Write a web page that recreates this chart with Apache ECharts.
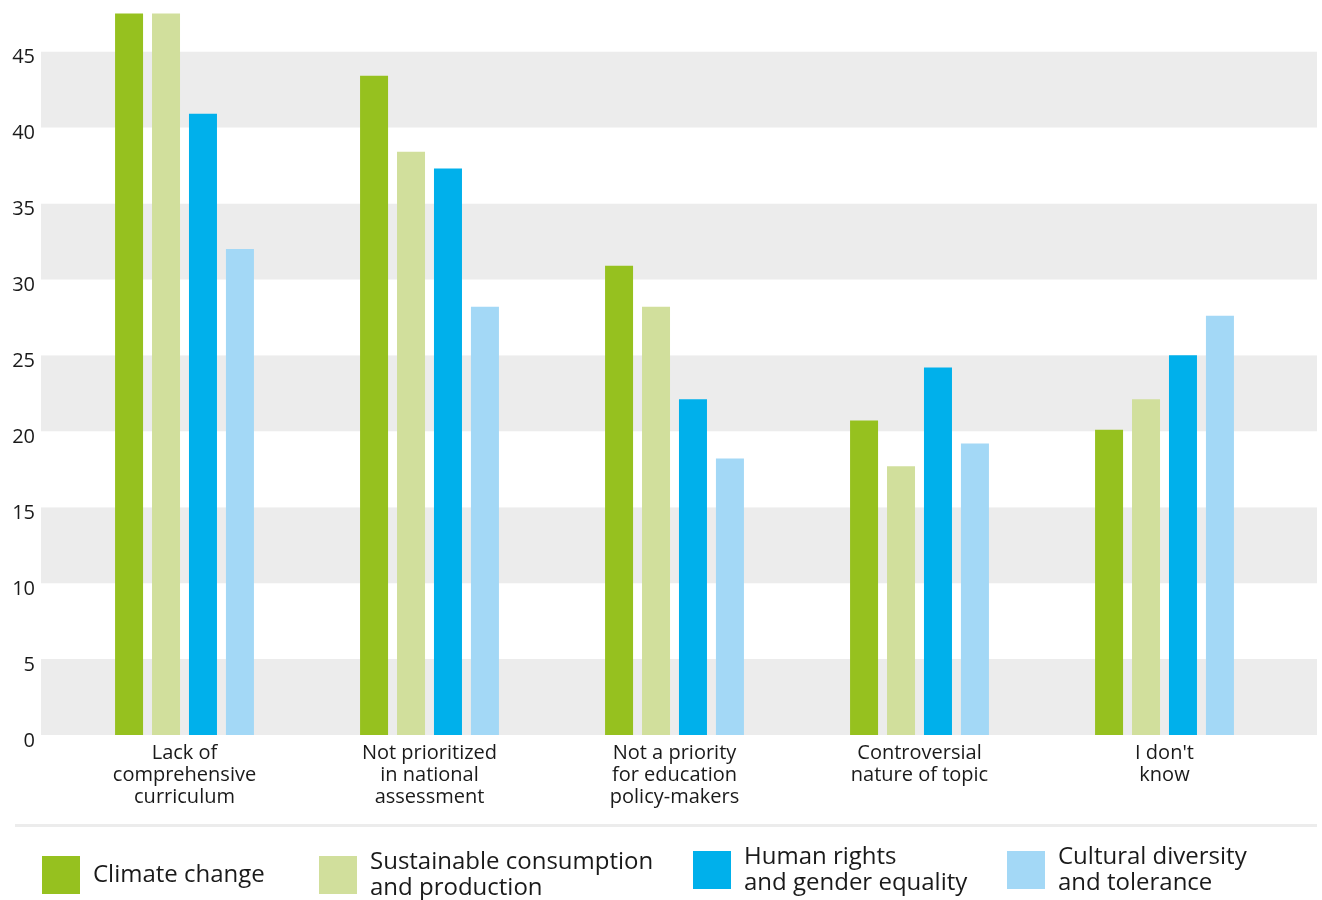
<!DOCTYPE html>
<html>
<head>
	<meta charset="utf-8">
	<title>Barriers to teaching</title>
	<script src="https://cdn.jsdelivr.net/npm/echarts@6/dist/echarts.min.js"></script>
	<style>
		body {margin: 0; background: #fff;}
	</style>
</head>
<body>
	<div id="main" style="width: 1322px;height: 900px"></div>
	<script type="text/javascript">
		// reasons (x axis)
		var categories = [
			'Lack of\ncomprehensive\ncurriculum',
			'Not prioritized\nin national\nassessment',
			'Not a priority\nfor education\npolicy-makers',
			'Controversial\nnature of topic',
			"I don't\nknow"
		];
		var seriesNames = [
			'Climate change',
			'Sustainable consumption\nand production',
			'Human rights\nand gender equality',
			'Cultural diversity\nand tolerance'
		];
		var climate = [47.5, 43.4, 30.9, 20.7, 20.1];
		var sustainable = [47.5, 38.4, 28.2, 17.7, 22.1];
		var humanRights = [40.9, 37.3, 22.1, 24.2, 25.0];
		var cultural = [32.0, 28.2, 18.2, 19.2, 27.6];
		var yTicks = [0, 5, 10, 15, 20, 25, 30, 35, 40, 45];

		var colors = ['#96c11f', '#d1df9c', '#00b0eb', '#a3d8f6'];
		var values = [climate, sustainable, humanRights, cultural];
		var font = 'Open Sans';

		var myChart = echarts.init(document.getElementById('main'));

		var series = seriesNames.map(function (name, i) {
			return {
				name: name,
				type: 'bar',
				xAxisIndex: 1,
				yAxisIndex: 1,
				data: values[i],
				barWidth: 28,
				barGap: '32%',
				itemStyle: {color: colors[i]},
				animation: false
			};
		});

		// one legend per item so each can sit where the original does
		var legendPos = [[42, 856], [319, 849], [693, 844], [1007, 844]];
		var legends = seriesNames.map(function (name, i) {
			return {
				data: [name],
				left: legendPos[i][0],
				top: legendPos[i][1],
				padding: 0,
				itemWidth: 38,
				itemHeight: 38,
				icon: 'rect',
				selectedMode: false,
				textStyle: {
					fontFamily: font,
					fontSize: 24,
					lineHeight: 26,
					color: '#1a1a1a',
					padding: [0, 0, 0, 8]
				}
			};
		});

		var option = {
			backgroundColor: '#fff',
			textStyle: {fontFamily: font},
			legend: legends,
			grid: [
				{left: 41, right: 5, top: 6, bottom: 165},
				{left: 62, right: 35, top: 6, bottom: 165}
			],
			xAxis: [
				{
					type: 'category',
					gridIndex: 0,
					data: categories,
					show: false
				},
				{
					type: 'category',
					gridIndex: 1,
					data: categories,
					axisLine: {show: false},
					axisTick: {show: false},
					axisLabel: {
						fontFamily: font,
						fontSize: 20,
						lineHeight: 22,
						color: '#1a1a1a',
						margin: 7,
						interval: 0
					}
				}
			],
			yAxis: [
				{
					type: 'value',
					gridIndex: 0,
					min: 0,
					max: 48,
					interval: 5,
					axisLine: {show: false},
					axisTick: {show: false},
					splitLine: {show: false},
					splitArea: {
						show: true,
						areaStyle: {color: ['#ececec', '#ffffff']}
					},
					axisLabel: {
						fontFamily: font,
						fontSize: 20,
						color: '#1a1a1a',
						margin: 6,
						verticalAlign: 'top',
						lineHeight: 12,
						formatter: function (v) {
							return yTicks.indexOf(v) >= 0 ? String(v) : '';
						}
					}
				},
				{
					type: 'value',
					gridIndex: 1,
					min: 0,
					max: 48,
					interval: 5,
					show: false,
					splitLine: {show: false}
				}
			],
			graphic: [
				{
					type: 'rect',
					shape: {x: 15, y: 824, width: 1302, height: 3},
					style: {fill: '#ececec'}
				}
			],
			series: series
		};

		myChart.setOption(option);
	</script>
</body>
</html>
